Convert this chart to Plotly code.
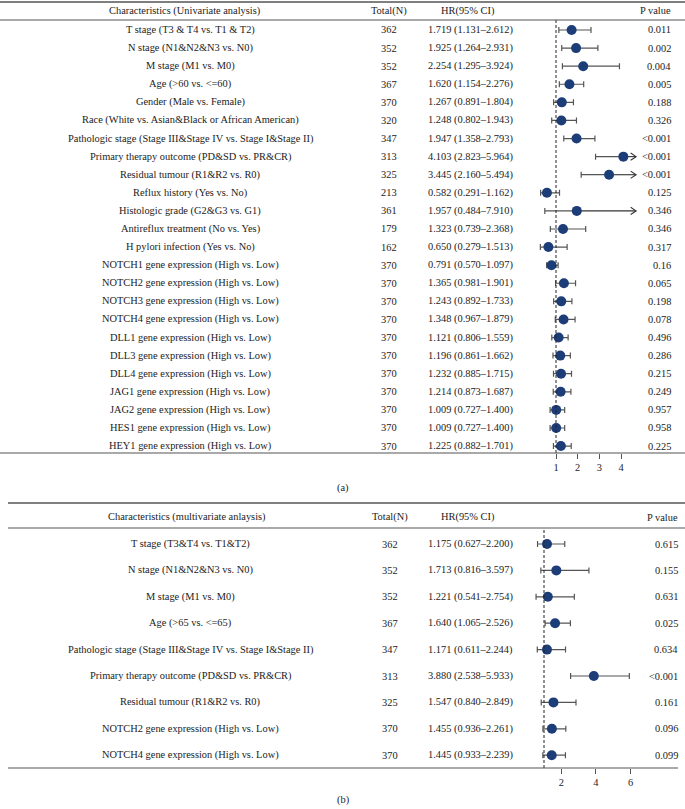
import plotly.graph_objects as go

W, H = 685, 809

# ---------------- data: panel (a) univariate ----------------
a_labels = [
    "T stage (T3 & T4 vs. T1 & T2)",
    "N stage (N1&N2&N3 vs. N0)",
    "M stage (M1 vs. M0)",
    "Age (>60 vs. <=60)",
    "Gender (Male vs. Female)",
    "Race (White vs. Asian&Black or African American)",
    "Pathologic stage (Stage III&Stage IV vs. Stage I&Stage II)",
    "Primary therapy outcome (PD&SD vs. PR&CR)",
    "Residual tumour (R1&R2 vs. R0)",
    "Reflux history (Yes vs. No)",
    "Histologic grade (G2&G3 vs. G1)",
    "Antireflux treatment (No vs. Yes)",
    "H pylori infection (Yes vs. No)",
    "NOTCH1 gene expression (High vs. Low)",
    "NOTCH2 gene expression (High vs. Low)",
    "NOTCH3 gene expression (High vs. Low)",
    "NOTCH4 gene expression (High vs. Low)",
    "DLL1 gene expression (High vs. Low)",
    "DLL3 gene expression (High vs. Low)",
    "DLL4 gene expression (High vs. Low)",
    "JAG1 gene expression (High vs. Low)",
    "JAG2 gene expression (High vs. Low)",
    "HES1 gene expression (High vs. Low)",
    "HEY1 gene expression (High vs. Low)",
]
a_n = [362, 352, 352, 367, 370, 320, 347, 313, 325, 213, 361, 179, 162,
       370, 370, 370, 370, 370, 370, 370, 370, 370, 370, 370]
a_hr = [1.719, 1.925, 2.254, 1.620, 1.267, 1.248, 1.947, 4.103, 3.445, 0.582,
        1.957, 1.323, 0.650, 0.791, 1.365, 1.243, 1.348, 1.121, 1.196, 1.232,
        1.214, 1.009, 1.009, 1.225]
a_lo = [1.131, 1.264, 1.295, 1.154, 0.891, 0.802, 1.358, 2.823, 2.160, 0.291,
        0.484, 0.739, 0.279, 0.570, 0.981, 0.892, 0.967, 0.806, 0.861, 0.885,
        0.873, 0.727, 0.727, 0.882]
a_hi = [2.612, 2.931, 3.924, 2.276, 1.804, 1.943, 2.793, 5.964, 5.494, 1.162,
        7.910, 2.368, 1.513, 1.097, 1.901, 1.733, 1.879, 1.559, 1.662, 1.715,
        1.687, 1.400, 1.400, 1.701]
a_p = ["0.011", "0.002", "0.004", "0.005", "0.188", "0.326", "<0.001", "<0.001",
       "<0.001", "0.125", "0.346", "0.346", "0.317", "0.16", "0.065", "0.198",
       "0.078", "0.496", "0.286", "0.215", "0.249", "0.957", "0.958", "0.225"]
a_ticks = [1, 2, 3, 4]

# ---------------- data: panel (b) multivariate ----------------
b_labels = [
    "T stage (T3&T4 vs. T1&T2)",
    "N stage (N1&N2&N3 vs. N0)",
    "M stage (M1 vs. M0)",
    "Age (>65 vs. <=65)",
    "Pathologic stage (Stage III&Stage IV vs. Stage I&Stage II)",
    "Primary therapy outcome (PD&SD vs. PR&CR)",
    "Residual tumour (R1&R2 vs. R0)",
    "NOTCH2 gene expression (High vs. Low)",
    "NOTCH4 gene expression (High vs. Low)",
]
b_n = [362, 352, 352, 367, 347, 313, 325, 370, 370]
b_hr = [1.175, 1.713, 1.221, 1.640, 1.171, 3.880, 1.547, 1.455, 1.445]
b_lo = [0.627, 0.816, 0.541, 1.065, 0.611, 2.538, 0.840, 0.936, 0.933]
b_hi = [2.200, 3.597, 2.754, 2.526, 2.244, 5.933, 2.849, 2.261, 2.239]
b_p = ["0.615", "0.155", "0.631", "0.025", "0.634", "<0.001", "0.161", "0.096", "0.099"]
b_ticks = [2, 4, 6]

# ---------------- style ----------------
FONT = "Liberation Serif"
FS = 10.4
TXT = "#222222"
NAVY = "#1d3d78"
BAR = "#555555"
LINE = "#555555"
A_CLIP = 4.69


def pxx(x):
    return x / W


def pyy(y):
    return 1 - y / H


fig = go.Figure()
annotations = []
shapes = []


def panel(labels, ns, hrs, los, his, ps, xa, ya, clip, cols, hdr_y, hdr_title, p_right):
    n = len(labels)
    rows = list(range(n))
    clipped = [h > clip for h in his]
    plus = [0 if c else h - r for h, r, c in zip(his, hrs, clipped)]
    minus = [r - l for r, l in zip(hrs, los)]
    # clipped CI extension lines + chevrons
    lx, ly = [], []
    for i, (r, c) in enumerate(zip(hrs, clipped)):
        if c:
            lx += [r, clip, None]
            ly += [i, i, None]
            lx += [clip - 0.25, clip, clip - 0.25, None]
            ly += [i - 0.2, i, i + 0.2, None]
    if lx:
        fig.add_trace(go.Scatter(x=lx, y=ly, mode="lines", xaxis=xa, yaxis=ya,
                                 line=dict(color="#333333", width=1.1),
                                 hoverinfo="skip", showlegend=False))
    fig.add_trace(go.Scatter(
        x=hrs, y=rows, mode="markers", xaxis=xa, yaxis=ya, showlegend=False,
        marker=dict(color=NAVY, size=10),
        error_x=dict(type="data", symmetric=False, array=plus, arrayminus=minus,
                     color=BAR, thickness=1.2, width=3),
    ))
    yref = "y" if ya == "y" else "y2"
    for i in rows:
        for txt, xc, anc in [(labels[i], cols[0], "center"),
                             (str(ns[i]), cols[1], "center"),
                             (f"{hrs[i]:.3f} ({los[i]:.3f}\u2013{his[i]:.3f})", cols[2], "center"),
                             (ps[i], p_right, "right")]:
            annotations.append(dict(x=pxx(xc), xref="paper", y=i, yref=yref, text=txt,
                                    showarrow=False, xanchor=anc, yanchor="middle",
                                    font=dict(family=FONT, size=FS, color=TXT)))
    for txt, xc, anc in [(hdr_title, cols[3], "center"), ("Total(N)", cols[1], "center"),
                         ("HR(95% CI)", cols[4], "center"), ("P value", p_right, "right")]:
        annotations.append(dict(x=pxx(xc), xref="paper", y=pyy(hdr_y), yref="paper", text=txt,
                                showarrow=False, xanchor=anc, yanchor="middle",
                                font=dict(family=FONT, size=FS, color=TXT)))
    # reference line at HR = 1
    shapes.append(dict(type="line", xref=xa, x0=1, x1=1, yref=ya + " domain", y0=0, y1=1,
                       line=dict(color="#222222", width=1, dash="3px,2px")))


panel(a_labels, a_n, a_hr, a_lo, a_hi, a_p, "x", "y", A_CLIP,
      [190, 389, 470, 184, 467], 11, "Characteristics (Univariate analysis)", 673)
panel(b_labels, b_n, b_hr, b_lo, b_hi, b_p, "x2", "y2", 99,
      [190, 390, 470, 187, 467], 517, "Characteristics (multivariate anlaysis)", 680)

# table rules
for y, x0, x1, w in [(2, 0, 685, 1.6), (20, 0, 685, 1.1), (453, 0, 685, 1.1),
                     (503, 8, 685, 1.4), (528, 8, 685, 1.1), (768, 8, 678, 1.1)]:
    shapes.append(dict(type="line", xref="paper", yref="paper", x0=pxx(x0), x1=pxx(x1),
                       y0=pyy(y), y1=pyy(y), line=dict(color=LINE, width=w)))

for txt, y in [("(a)", 488), ("(b)", 800)]:
    annotations.append(dict(x=pxx(343), xref="paper", y=pyy(y), yref="paper", text=txt,
                            showarrow=False, xanchor="center", yanchor="middle",
                            font=dict(family=FONT, size=FS, color=TXT)))

# axis geometry (pixel-based)
A_X1, A_PPU = 556, 21.7
A_D0, A_D1 = 530, 640
B_X1, B_PPU = 544, 17.3
B_D0, B_D1 = 520, 670
A_TOP, A_BOT, A_R0, A_STEP, A_N = 20, 453, 30, 18.09, len(a_labels)
B_TOP, B_BOT, B_R0, B_STEP, B_N = 528, 768, 544, 26.4, len(b_labels)

tickfont = dict(family=FONT, size=FS, color=TXT)
common_x = dict(showgrid=False, zeroline=False, showline=False, ticks="outside", ticklen=5,
                tickcolor=LINE, tickwidth=1, tickfont=tickfont, fixedrange=True)
common_y = dict(showgrid=False, zeroline=False, showline=False, showticklabels=False,
                ticks="", fixedrange=True)

fig.update_layout(
    width=W, height=H, margin=dict(l=0, r=0, t=0, b=0),
    paper_bgcolor="white", plot_bgcolor="rgba(0,0,0,0)",
    xaxis=dict(domain=[pxx(A_D0), pxx(A_D1)],
               range=[1 - (A_X1 - A_D0) / A_PPU, 1 + (A_D1 - A_X1) / A_PPU],
               tickvals=a_ticks, anchor="y", **common_x),
    yaxis=dict(domain=[pyy(A_BOT), pyy(A_TOP)],
               range=[A_N - 1 + (A_BOT - (A_R0 + (A_N - 1) * A_STEP)) / A_STEP,
                      -(A_R0 - A_TOP) / A_STEP],
               anchor="x", **common_y),
    xaxis2=dict(domain=[pxx(B_D0), pxx(B_D1)],
                range=[1 - (B_X1 - B_D0) / B_PPU, 1 + (B_D1 - B_X1) / B_PPU],
                tickvals=b_ticks, anchor="y2", **common_x),
    yaxis2=dict(domain=[pyy(B_BOT), pyy(B_TOP)],
                range=[B_N - 1 + (B_BOT - (B_R0 + (B_N - 1) * B_STEP)) / B_STEP,
                       -(B_R0 - B_TOP) / B_STEP],
                anchor="x2", **common_y),
    annotations=annotations, shapes=shapes,
)

fig.write_html(
    "out.html",
    config={"displayModeBar": False},
    post_script="document.body.style.margin='0';document.body.style.overflow='hidden';",
)
